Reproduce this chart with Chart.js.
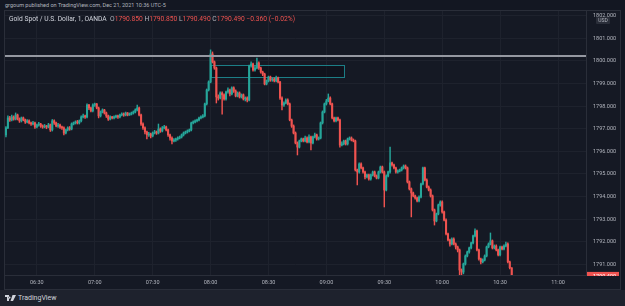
<!DOCTYPE html>
<html>
<head>
<meta charset="utf-8">
<script src="https://cdn.jsdelivr.net/npm/chart.js@4.4.1/dist/chart.umd.min.js"></script>
<style>
  html, body { margin: 0; padding: 0; }
  body { width: 625px; height: 306px; background: #131722; position: relative; overflow: hidden;
         font-family: Roboto, "Open Sans", sans-serif; }
  #pub { position: absolute; left: 5px; top: 1px; font-size: 5.5px; line-height: 8px; color: #b2b5be; }
  #box { position: absolute; left: 4px; top: 10px; width: 617px; height: 280px;
         border: 1px solid #2a2e39; box-sizing: border-box; background: #151924; }
  #wrap { position: absolute; left: 5px; top: 11px; width: 615px; height: 278px; }
  #legend { position: absolute; left: 9px; top: 15px; font-size: 6.7px; line-height: 8px; color: #d1d4dc; white-space: pre; }
  #legend .k { color: #b2b5be; }
  #legend .v { color: #ef5350; }
  #usd { position: absolute; left: 596px; top: 17px; width: 14px; height: 7px; background: #2a2e39;
         color: #b2b5be; font-size: 5px; line-height: 7px; text-align: center; border-radius: 1px; }
  #foot { position: absolute; left: 0; top: 290px; width: 625px; height: 16px; background: #1e222d; }
  #brand { position: absolute; left: 5px; top: 4px; font-size: 7px; line-height: 8px; color: #d1d4dc; }
  #brand svg { vertical-align: -1px; margin-right: 2px; }
</style>
</head>
<body>
<div id="pub">grgoum published on TradingView.com, Dec 21, 2021 10:36 UTC-5</div>
<div id="box"></div>
<div id="wrap"><canvas id="chart"></canvas></div>
<div id="legend"></div>
<div id="usd">USD</div>
<div id="foot"><div id="brand"><svg width="11" height="6" viewBox="0 0 22 12"><path d="M0 0h8v12H4V4H0z M9 3a2 2 0 1 0 0.01 0z M15 0h7l-6 12h-5z" fill="#d1d4dc"/></svg>TradingView</div></div>

<script>
// 1 分鐘 K 線，從 06:14 開始
const symbolName = 'Gold Spot / U.S. Dollar, 1, OANDA';
const startMinute = 6 * 60 + 14;

const opens = [
  1796.73, 1797.04, 1797.48, 1797.39, 1797.52, 1797.43, 1797.61, 1797.43, 1797.35, 1797.48,
  1797.39, 1797.30, 1797.35, 1797.26, 1797.21, 1797.26, 1797.08, 1797.17, 1797.21, 1797.12,
  1797.08, 1797.12, 1797.08, 1797.17, 1796.95, 1797.35, 1797.26, 1797.12, 1797.17, 1797.08,
  1797.04, 1796.81, 1796.95, 1797.04, 1796.99, 1797.21, 1797.26, 1797.30, 1797.26, 1797.35,
  1797.52, 1797.57, 1797.52, 1798.05, 1797.92, 1797.79, 1798.05, 1798.10, 1797.92, 1797.57,
  1797.74, 1797.83, 1797.70, 1797.57, 1797.43, 1797.52, 1797.48, 1797.52, 1797.57, 1797.52,
  1797.61, 1797.65, 1797.61, 1797.70, 1797.61, 1797.65, 1797.70, 1797.74, 1797.83, 1797.92,
  1797.61, 1797.21, 1797.04, 1796.86, 1796.73, 1796.77, 1796.68, 1796.81, 1796.86, 1796.81,
  1796.99, 1796.90, 1797.04, 1797.08, 1796.95, 1796.73, 1796.59, 1796.46, 1796.50, 1796.55,
  1796.59, 1796.64, 1796.73, 1796.81, 1796.86, 1796.90, 1796.95, 1797.26, 1797.30, 1797.35,
  1797.39, 1797.48, 1797.52, 1797.57, 1798.10, 1798.72, 1799.07, 1800.31, 1799.96, 1799.69,
  1798.41, 1798.36, 1798.58, 1798.50, 1798.32, 1798.63, 1798.72, 1798.54, 1798.81, 1798.67,
  1798.45, 1798.58, 1798.41, 1798.50, 1798.32, 1798.36, 1798.27, 1799.78, 1799.87, 1799.60,
  1799.69, 1799.91, 1799.69, 1799.51, 1799.42, 1798.98, 1799.12, 1799.29, 1799.16, 1799.20,
  1799.12, 1799.25, 1799.07, 1798.36, 1798.05, 1798.14, 1798.27, 1798.10, 1797.39, 1797.12,
  1796.81, 1796.37, 1796.19, 1796.46, 1796.55, 1796.46, 1796.59, 1796.42, 1796.64, 1796.37,
  1796.64, 1796.73, 1796.55, 1796.59, 1797.26, 1797.74, 1798.10, 1798.23, 1798.36, 1798.10,
  1797.48, 1797.35, 1797.48, 1797.39, 1796.28, 1796.33, 1796.46, 1796.33, 1796.55, 1796.59,
  1796.50, 1796.46, 1795.18, 1795.09, 1795.44, 1795.27, 1795.09, 1794.87, 1794.96, 1794.78,
  1794.96, 1795.09, 1794.91, 1794.82, 1795.09, 1795.31, 1795.09, 1794.29, 1794.91, 1795.09,
  1795.49, 1795.40, 1795.27, 1795.09, 1795.13, 1795.18, 1795.27, 1795.35, 1795.27, 1794.65,
  1794.34, 1794.16, 1794.03, 1793.94, 1793.81, 1793.98, 1794.56, 1795.27, 1794.73, 1794.42,
  1794.29, 1794.03, 1793.41, 1792.92, 1793.23, 1793.63, 1793.76, 1793.32, 1792.96, 1792.35,
  1792.08, 1791.90, 1792.12, 1791.90, 1791.77, 1791.64, 1790.75, 1790.66, 1791.02, 1791.37,
  1791.55, 1791.73, 1791.95, 1792.26, 1792.48, 1791.64, 1791.24, 1791.11, 1791.19, 1791.37,
  1791.77, 1791.90, 1792.04, 1791.73, 1791.81, 1791.64, 1791.42, 1791.77, 1791.68, 1791.81,
  1791.90, 1791.11, 1790.85
];
const highs = [
  1797.10, 1797.57, 1797.55, 1797.61, 1797.57, 1797.70, 1797.65, 1797.48, 1797.52, 1797.52,
  1797.43, 1797.41, 1797.39, 1797.30, 1797.33, 1797.30, 1797.21, 1797.28, 1797.24, 1797.17,
  1797.19, 1797.15, 1797.24, 1797.21, 1797.41, 1797.39, 1797.30, 1797.24, 1797.21, 1797.12,
  1797.08, 1796.99, 1797.08, 1797.10, 1797.26, 1797.30, 1797.35, 1797.37, 1797.39, 1797.57,
  1797.65, 1797.61, 1798.10, 1798.08, 1797.96, 1798.10, 1798.14, 1798.12, 1797.96, 1797.79,
  1797.88, 1797.86, 1797.74, 1797.61, 1797.57, 1797.55, 1797.57, 1797.61, 1797.61, 1797.65,
  1797.70, 1797.70, 1797.74, 1797.72, 1797.70, 1797.74, 1797.79, 1797.88, 1798.05, 1797.96,
  1797.65, 1797.26, 1797.08, 1796.90, 1796.84, 1796.81, 1796.86, 1796.93, 1796.90, 1797.21,
  1797.04, 1797.10, 1797.15, 1797.12, 1796.99, 1796.77, 1796.64, 1796.57, 1796.59, 1796.64,
  1796.68, 1796.77, 1796.86, 1796.90, 1796.95, 1796.99, 1797.30, 1797.35, 1797.39, 1797.43,
  1797.52, 1797.57, 1797.63, 1798.14, 1798.76, 1799.12, 1800.49, 1800.40, 1800.00, 1799.73,
  1798.50, 1798.63, 1798.63, 1798.54, 1798.67, 1798.81, 1798.76, 1798.85, 1798.85, 1798.72,
  1798.63, 1798.63, 1798.54, 1798.54, 1798.41, 1798.41, 1799.82, 1799.96, 1799.91, 1799.78,
  1800.13, 1799.96, 1799.73, 1799.55, 1799.46, 1799.16, 1799.33, 1799.33, 1799.25, 1799.25,
  1799.33, 1799.29, 1799.10, 1798.41, 1798.19, 1798.32, 1798.32, 1798.14, 1797.43, 1797.17,
  1796.86, 1796.42, 1796.50, 1796.59, 1796.59, 1796.68, 1796.64, 1796.73, 1796.68, 1796.68,
  1796.81, 1796.77, 1796.64, 1797.30, 1797.79, 1798.14, 1798.30, 1798.54, 1798.41, 1798.14,
  1797.52, 1797.52, 1797.52, 1797.43, 1796.42, 1796.50, 1796.50, 1796.59, 1796.64, 1796.64,
  1796.55, 1796.50, 1795.22, 1795.49, 1795.49, 1795.31, 1795.13, 1795.00, 1795.00, 1795.00,
  1795.13, 1795.13, 1794.96, 1795.13, 1795.35, 1795.35, 1795.13, 1794.96, 1795.13, 1796.19,
  1795.53, 1795.44, 1795.31, 1795.18, 1795.22, 1795.31, 1795.40, 1795.40, 1795.31, 1794.69,
  1794.38, 1794.20, 1794.07, 1793.98, 1794.03, 1794.60, 1795.31, 1795.31, 1794.78, 1794.47,
  1794.34, 1794.07, 1793.45, 1793.27, 1793.67, 1793.81, 1793.81, 1793.36, 1793.01, 1792.39,
  1792.12, 1792.17, 1792.17, 1791.95, 1791.81, 1791.68, 1790.80, 1791.06, 1791.42, 1791.59,
  1791.77, 1791.99, 1792.30, 1792.57, 1792.52, 1791.68, 1791.28, 1791.24, 1791.42, 1791.81,
  1791.95, 1792.39, 1792.08, 1791.86, 1791.86, 1791.68, 1791.81, 1791.81, 1791.86, 1791.99,
  1791.95, 1791.15, 1790.85
];
const lows = [
  1796.64, 1797.00, 1797.33, 1797.35, 1797.38, 1797.39, 1797.39, 1797.28, 1797.30, 1797.35,
  1797.24, 1797.26, 1797.21, 1797.15, 1797.17, 1797.02, 1797.04, 1797.12, 1797.06, 1797.02,
  1797.04, 1797.00, 1797.04, 1796.88, 1796.90, 1797.19, 1797.08, 1797.06, 1797.02, 1796.97,
  1796.73, 1796.77, 1796.90, 1796.93, 1796.95, 1797.17, 1797.21, 1797.21, 1797.21, 1797.30,
  1797.48, 1797.46, 1797.48, 1797.85, 1797.74, 1797.74, 1797.99, 1797.88, 1797.48, 1797.52,
  1797.70, 1797.65, 1797.50, 1797.37, 1797.39, 1797.43, 1797.43, 1797.48, 1797.46, 1797.48,
  1797.57, 1797.55, 1797.57, 1797.57, 1797.59, 1797.61, 1797.65, 1797.70, 1797.79, 1797.57,
  1797.15, 1796.97, 1796.77, 1796.55, 1796.66, 1796.59, 1796.64, 1796.77, 1796.75, 1796.77,
  1796.84, 1796.86, 1796.99, 1796.90, 1796.66, 1796.50, 1796.33, 1796.42, 1796.44, 1796.50,
  1796.55, 1796.59, 1796.68, 1796.77, 1796.81, 1796.86, 1796.90, 1797.21, 1797.26, 1797.30,
  1797.35, 1797.43, 1797.48, 1797.52, 1798.05, 1798.67, 1799.03, 1799.91, 1799.63, 1798.14,
  1798.27, 1798.32, 1797.65, 1798.27, 1798.27, 1798.58, 1798.45, 1798.50, 1798.61, 1798.41,
  1798.41, 1798.36, 1798.36, 1798.27, 1798.23, 1798.19, 1798.23, 1799.73, 1799.55, 1799.55,
  1799.65, 1799.63, 1799.46, 1799.35, 1798.94, 1798.94, 1799.07, 1799.10, 1799.10, 1799.07,
  1799.07, 1799.03, 1798.30, 1797.83, 1797.99, 1798.10, 1798.05, 1797.35, 1797.06, 1796.77,
  1796.33, 1795.84, 1796.15, 1796.42, 1796.42, 1796.42, 1796.37, 1796.37, 1796.06, 1796.33,
  1796.59, 1796.50, 1796.50, 1796.55, 1797.21, 1797.70, 1798.05, 1798.19, 1798.05, 1797.43,
  1797.30, 1797.30, 1797.35, 1796.19, 1796.24, 1796.28, 1796.28, 1796.28, 1796.50, 1796.46,
  1796.42, 1795.13, 1794.51, 1795.04, 1795.22, 1795.04, 1794.78, 1794.82, 1794.73, 1794.73,
  1794.91, 1794.87, 1794.78, 1794.78, 1795.04, 1795.04, 1793.54, 1794.25, 1794.87, 1795.04,
  1795.35, 1795.22, 1795.04, 1795.04, 1795.09, 1795.13, 1795.22, 1795.22, 1794.60, 1794.29,
  1793.10, 1793.98, 1793.89, 1793.76, 1793.76, 1793.94, 1794.51, 1794.69, 1794.38, 1794.25,
  1793.98, 1793.36, 1792.74, 1792.88, 1793.19, 1793.58, 1793.27, 1792.92, 1792.30, 1792.04,
  1791.81, 1791.86, 1791.86, 1791.68, 1791.55, 1790.53, 1790.53, 1790.58, 1790.97, 1791.33,
  1791.50, 1791.68, 1791.90, 1792.21, 1791.59, 1791.19, 1791.02, 1791.06, 1791.15, 1791.33,
  1791.73, 1791.86, 1791.68, 1791.68, 1791.59, 1791.37, 1791.37, 1791.64, 1791.64, 1791.77,
  1791.06, 1790.80, 1790.49
];
const closes = [
  1797.04, 1797.48, 1797.39, 1797.52, 1797.43, 1797.61, 1797.43, 1797.35, 1797.48, 1797.39,
  1797.30, 1797.35, 1797.26, 1797.21, 1797.26, 1797.08, 1797.17, 1797.21, 1797.12, 1797.08,
  1797.12, 1797.08, 1797.17, 1796.95, 1797.35, 1797.26, 1797.12, 1797.17, 1797.08, 1797.04,
  1796.81, 1796.95, 1797.04, 1796.99, 1797.21, 1797.26, 1797.30, 1797.26, 1797.35, 1797.52,
  1797.57, 1797.52, 1798.05, 1797.92, 1797.79, 1798.05, 1798.10, 1797.92, 1797.57, 1797.74,
  1797.83, 1797.70, 1797.57, 1797.43, 1797.52, 1797.48, 1797.52, 1797.57, 1797.52, 1797.61,
  1797.65, 1797.61, 1797.70, 1797.61, 1797.65, 1797.70, 1797.74, 1797.83, 1797.92, 1797.61,
  1797.21, 1797.04, 1796.86, 1796.73, 1796.77, 1796.68, 1796.81, 1796.86, 1796.81, 1796.99,
  1796.90, 1797.04, 1797.08, 1796.95, 1796.73, 1796.59, 1796.46, 1796.50, 1796.55, 1796.59,
  1796.64, 1796.73, 1796.81, 1796.86, 1796.90, 1796.95, 1797.26, 1797.30, 1797.35, 1797.39,
  1797.48, 1797.52, 1797.57, 1798.10, 1798.72, 1799.07, 1800.31, 1799.96, 1799.69, 1798.41,
  1798.36, 1798.58, 1798.50, 1798.32, 1798.63, 1798.72, 1798.54, 1798.81, 1798.67, 1798.45,
  1798.58, 1798.41, 1798.50, 1798.32, 1798.36, 1798.27, 1799.78, 1799.87, 1799.60, 1799.69,
  1799.91, 1799.69, 1799.51, 1799.42, 1798.98, 1799.12, 1799.29, 1799.16, 1799.20, 1799.12,
  1799.25, 1799.07, 1798.36, 1798.05, 1798.14, 1798.27, 1798.10, 1797.39, 1797.12, 1796.81,
  1796.37, 1796.19, 1796.46, 1796.55, 1796.46, 1796.59, 1796.42, 1796.64, 1796.37, 1796.64,
  1796.73, 1796.55, 1796.59, 1797.26, 1797.74, 1798.10, 1798.23, 1798.36, 1798.10, 1797.48,
  1797.35, 1797.48, 1797.39, 1796.28, 1796.33, 1796.46, 1796.33, 1796.55, 1796.59, 1796.50,
  1796.46, 1795.18, 1795.09, 1795.44, 1795.27, 1795.09, 1794.87, 1794.96, 1794.78, 1794.96,
  1795.09, 1794.91, 1794.82, 1795.09, 1795.31, 1795.09, 1794.29, 1794.91, 1795.09, 1795.49,
  1795.40, 1795.27, 1795.09, 1795.13, 1795.18, 1795.27, 1795.35, 1795.27, 1794.65, 1794.34,
  1794.16, 1794.03, 1793.94, 1793.81, 1793.98, 1794.56, 1795.27, 1794.73, 1794.42, 1794.29,
  1794.03, 1793.41, 1792.92, 1793.23, 1793.63, 1793.76, 1793.32, 1792.96, 1792.35, 1792.08,
  1791.90, 1792.12, 1791.90, 1791.77, 1791.64, 1790.75, 1790.66, 1791.02, 1791.37, 1791.55,
  1791.73, 1791.95, 1792.26, 1792.48, 1791.64, 1791.24, 1791.11, 1791.19, 1791.37, 1791.77,
  1791.90, 1792.04, 1791.73, 1791.81, 1791.64, 1791.42, 1791.77, 1791.68, 1791.81, 1791.90,
  1791.11, 1790.85, 1790.49
];

// 時間軸刻度 (分鐘) 與標籤
const tickMinutes = [390, 420, 450, 480, 510, 540, 570, 600, 630, 660];
const tickLabels = ['06:30', '07:00', '07:30', '08:00', '08:30', '09:00', '09:30', '10:00', '10:30', '11:00'];
const priceTicks = [1791, 1792, 1793, 1794, 1795, 1796, 1797, 1798, 1799, 1800, 1801, 1802];

// 水平線與矩形區塊
const levelPrice = 1800.22;
const zoneStart = 480, zoneEnd = 549, zoneHigh = 1799.82, zoneLow = 1799.29;

const UP = '#26a69a', DOWN = '#ef5350';
const xMin = 373.5, xMax = 674.5;

function renderLegend() {
    const n = closes.length - 1;
    const chg = closes[n] - closes[n - 1];
    const pct = chg / closes[n - 1] * 100;
    const f = v => v.toFixed(3);
    document.getElementById('legend').innerHTML =
        `${symbolName}  <span class="k">O</span><span class="v">${f(opens[n])}</span> ` +
        `<span class="k">H</span><span class="v">${f(highs[n])}</span> ` +
        `<span class="k">L</span><span class="v">${f(lows[n])}</span> ` +
        `<span class="k">C</span><span class="v">${f(closes[n])}</span> ` +
        `<span class="v">${chg < 0 ? '\u2212' : '+'}${Math.abs(chg).toFixed(3)} (${pct < 0 ? '\u2212' : '+'}${Math.abs(pct).toFixed(2)}%)</span>`;
}

const zonePlugin = {
    id: 'zone',
    beforeDatasetsDraw(chart) {
        const { ctx, scales: { x, y } } = chart;
        const x1 = x.getPixelForValue(zoneStart), x2 = x.getPixelForValue(zoneEnd);
        const y1 = y.getPixelForValue(zoneHigh), y2 = y.getPixelForValue(zoneLow);
        ctx.save();
        ctx.fillStyle = 'rgba(8, 10, 16, 0.35)';
        ctx.fillRect(x1, y1, x2 - x1, y2 - y1);
        ctx.strokeStyle = '#1c7e86';
        ctx.lineWidth = 1;
        ctx.strokeRect(Math.round(x1) + 0.5, Math.round(y1) + 0.5, Math.round(x2 - x1), Math.round(y2 - y1));
        ctx.restore();
    }
};

const priceTagPlugin = {
    id: 'priceTag',
    afterDraw(chart) {
        const { ctx, chartArea, scales: { y } } = chart;
        const last = closes[closes.length - 1];
        const py = y.getPixelForValue(last);
        ctx.save();
        ctx.beginPath();
        ctx.rect(chartArea.right, chartArea.top, 40, chartArea.bottom - chartArea.top + 1);
        ctx.clip();
        ctx.fillStyle = DOWN;
        ctx.fillRect(chartArea.right + 1, py - 4, 32, 9);
        ctx.fillStyle = '#ffffff';
        ctx.font = '5.5px Roboto';
        ctx.textBaseline = 'middle';
        ctx.fillText(last.toFixed(3), chartArea.right + 7, py + 0.5);
        ctx.restore();
    }
};

function initChart() {
    const ctx = document.getElementById('chart');
    const colors = closes.map((c, i) => c >= opens[i] ? UP : DOWN);

    new Chart(ctx, {
        type: 'bar',
        data: {
            datasets: [
                {
                    type: 'line',
                    data: [{ x: xMin, y: levelPrice }, { x: xMax, y: levelPrice }],
                    borderColor: '#9598a1',
                    borderWidth: 2,
                    pointRadius: 0
                },
                {
                    data: closes.map((c, i) => ({ x: startMinute + i, y: [opens[i], c] })),
                    backgroundColor: colors,
                    barThickness: 1.4,
                    minBarLength: 1,
                    grouped: false
                },
                {
                    data: closes.map((c, i) => ({ x: startMinute + i, y: [lows[i], highs[i]] })),
                    backgroundColor: colors,
                    barThickness: 0.8,
                    grouped: false
                }
            ]
        },
        options: {
            responsive: true,
            maintainAspectRatio: false,
            animation: false,
            layout: { padding: 0 },
            plugins: {
                legend: { display: false },
                tooltip: { enabled: false }
            },
            scales: {
                x: {
                    type: 'linear',
                    offset: false,
                    min: xMin,
                    max: xMax,
                    grid: { color: '#1e222d', drawTicks: false, offset: false },
                    border: { color: '#2a2e39' },
                    ticks: {
                        color: '#b2b5be',
                        font: { size: 5.5 },
                        padding: 4,
                        maxRotation: 0,
                        autoSkip: false,
                        callback: v => tickLabels[tickMinutes.indexOf(v)]
                    },
                    afterBuildTicks: s => { s.ticks = tickMinutes.map(v => ({ value: v })); },
                    afterFit: s => { s.height = 14; s.paddingLeft = 0; s.paddingRight = 0; }
                },
                y: {
                    position: 'right',
                    min: 1790.53,
                    max: 1802.21,
                    grid: { color: '#1e222d', drawTicks: false },
                    border: { color: '#2a2e39' },
                    ticks: {
                        color: '#b2b5be',
                        font: { size: 5.5 },
                        padding: 7,
                        callback: v => v.toFixed(3)
                    },
                    afterBuildTicks: s => { s.ticks = priceTicks.map(v => ({ value: v })); },
                    afterFit: s => { s.width = 34; s.paddingTop = 0; s.paddingBottom = 0; }
                }
            }
        },
        plugins: [zonePlugin, priceTagPlugin]
    });
}

Chart.defaults.font.family = 'Roboto, "Open Sans", sans-serif';

document.addEventListener('DOMContentLoaded', () => {
    renderLegend();
    initChart();
});
</script>
</body>
</html>
